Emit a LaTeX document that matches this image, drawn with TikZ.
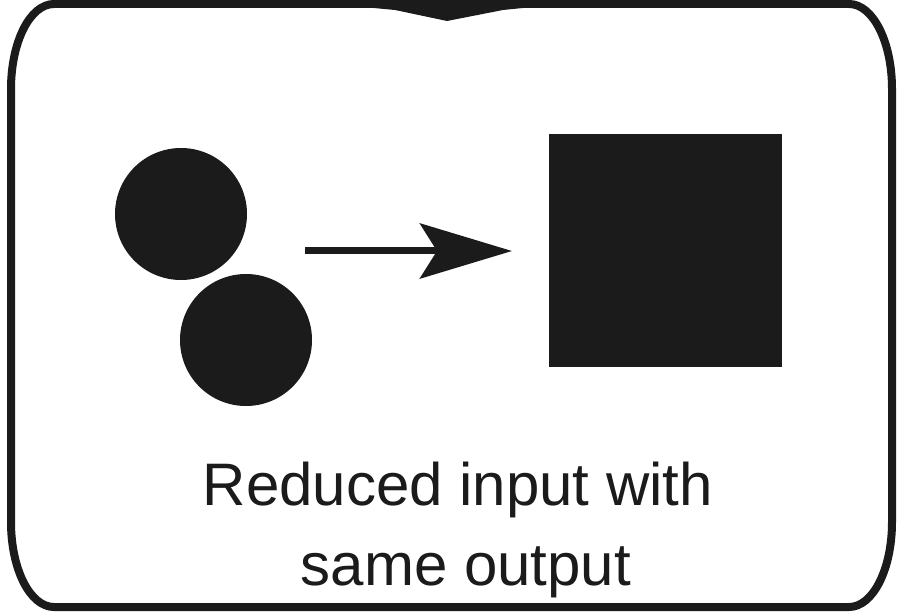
\documentclass[tikz,border=0pt]{standalone}
\usepackage{fontspec}
\setmainfont{Liberation Sans}
\usetikzlibrary{arrows.meta, calc}

\definecolor{ink}{RGB}{27,27,27}

\begin{document}
\begin{tikzpicture}[x=1pt,y=-1pt,
    blob/.style={circle, fill=ink, inner sep=0pt, minimum size=132pt},
    block/.style={rectangle, fill=ink, inner sep=0pt, minimum size=233pt},
    frame/.style={draw=ink, line width=8pt, line join=round},
    link/.style={draw=ink, line width=7pt, -{Stealth[length=92pt, width=55pt, inset=17pt]}}]
      \useasboundingbox (0,0) rectangle (899,612);

      % outer frame
      \path[frame] (11,89) .. controls (11,42) and (30,4) .. (54,4)
            -- (849,4) .. controls (873,4) and (892,42) .. (892,89)
            -- (892,522) .. controls (892,569) and (873,607) .. (849,607)
            -- (54,607) .. controls (30,607) and (11,569) .. (11,522) -- cycle;
      \fill[ink] (363,0) -- (533,0) -- (533,7) -- (503,10) -- (447,21)
            -- (395,10) -- (363,7) -- cycle;

      \node[blob] (in1) at (181,214) {};
      \node[blob] (in2) at (246,340) {};
      \node[block] (out) at (665.5,250.5) {};

      \coordinate (from) at (305,251);
      \coordinate (to) at (512,251);
      \draw[link] (from) -- (to);

      \node[inner sep=0pt, align=center, text=ink,
            font=\fontsize{60}{80}\selectfont] (caption) at (466,529.5)
            {Reduced input with\hspace*{16pt}\\same output};
    \end{tikzpicture}
\end{document}
